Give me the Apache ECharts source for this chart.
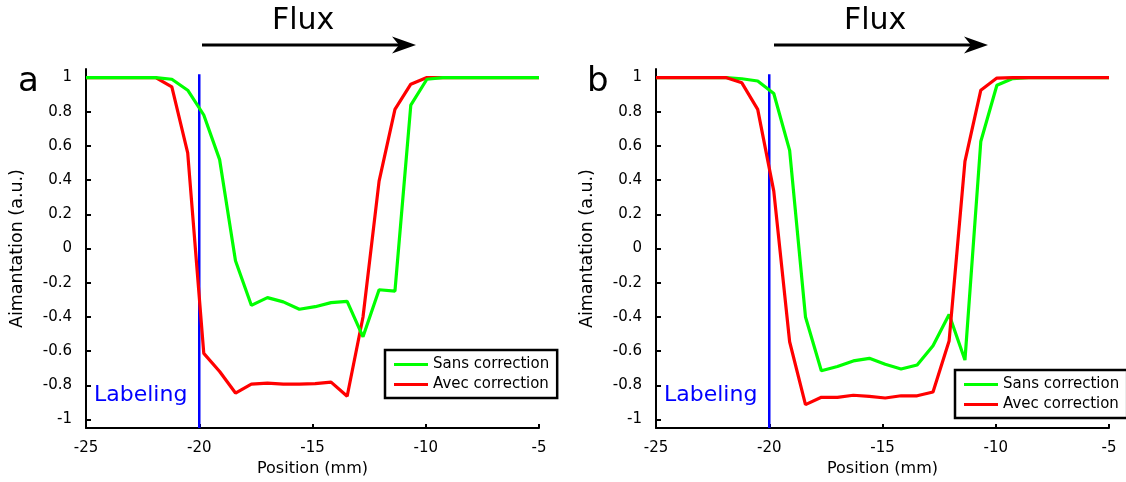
<!DOCTYPE html>
<html>
<head>
<meta charset="utf-8">
<script src="https://cdn.jsdelivr.net/npm/echarts@6/dist/echarts.min.js"></script>
<style>
html,body{margin:0;padding:0;background:#fff;}
#chart{width:1126px;height:482px;}
</style>
</head>
<body>
<div id="chart"></div>
<script>
// Positions (mm) of the sampled profile points
const positions = [-25, -21.92, -21.21, -20.51, -19.80, -19.10, -18.40, -17.70, -16.99, -16.29, -15.58,
  -14.88, -14.18, -13.47, -12.77, -12.06, -11.36, -10.66, -9.95, -9.25, -8.54, -5];

// Panel a
const aSans = [1, 1, 0.99, 0.926, 0.781, 0.52, -0.071, -0.332, -0.287, -0.312, -0.355,
  -0.34, -0.316, -0.309, -0.516, -0.241, -0.249, 0.839, 0.99, 1, 1, 1];
const aAvec = [1, 1, 0.945, 0.559, -0.613, -0.719, -0.845, -0.793, -0.787, -0.793, -0.793,
  -0.79, -0.781, -0.864, -0.40, 0.394, 0.814, 0.961, 1, 1, 1, 1];

// Panel b
const bSans = [1, 1, 0.993, 0.98, 0.907, 0.574, -0.40, -0.715, -0.69, -0.657, -0.642,
  -0.677, -0.704, -0.681, -0.568, -0.386, -0.652, 0.626, 0.955, 0.994, 1, 1];
const bAvec = [1, 1, 0.969, 0.814, 0.336, -0.545, -0.913, -0.87, -0.87, -0.858, -0.865,
  -0.874, -0.861, -0.861, -0.839, -0.541, 0.51, 0.926, 0.997, 1, 1, 1];

// Labeling position line
const labelingX = [-20, -20];
const labelingY = [1.02, -1.05];

// Axis ticks
const yTicks = [-1, -0.8, -0.6, -0.4, -0.2, 0, 0.2, 0.4, 0.6, 0.8, 1];
const xMin = -25, xMax = -5, xStep = 5;

const seriesNames = ['Sans correction', 'Avec correction'];
const panelLetters = ['a', 'b'];

const FONT = 'DejaVu Sans';
const GREEN = '#00ff00', RED = '#ff0000', BLUE = '#0000ff';

function pairs(xs, ys) { return xs.map((x, i) => [x, ys[i]]); }

const chart = echarts.init(document.getElementById('chart'), null, {renderer: 'canvas'});

const gridLefts = [86, 656];
const grids = gridLefts.map(l => ({left: l, top: 69, width: 453, height: 361, containLabel: false}));

const xAxes = grids.map((g, i) => ({
  gridIndex: i, type: 'value', min: xMin, max: xMax, interval: xStep,
  name: 'Position (mm)', nameLocation: 'middle', nameGap: 29,
  nameTextStyle: {fontFamily: FONT, fontSize: 16, color: '#000'},
  axisLine: {show: true, onZero: false, lineStyle: {color: '#000', width: 2}},
  axisTick: {show: true, inside: true, length: 4, lineStyle: {color: '#000', width: 2}},
  axisLabel: {fontFamily: FONT, fontSize: 15, color: '#000', margin: 13},
  splitLine: {show: false}
}));

const yAxes = grids.map((g, i) => ({
  gridIndex: i, type: 'value', min: -1.05, max: 1.05,
  name: 'Aimantation (a.u.)', nameLocation: 'middle', nameGap: 60, nameRotate: 90,
  nameTextStyle: {fontFamily: FONT, fontSize: 17.5, color: '#000'},
  axisLine: {show: true, onZero: false, lineStyle: {color: '#000', width: 2}},
  axisTick: {show: true, inside: true, length: 5, customValues: yTicks, lineStyle: {color: '#000', width: 2}},
  axisLabel: {fontFamily: FONT, fontSize: 15, color: '#000', margin: 14, customValues: yTicks,
    formatter: v => String(Math.round(v * 10) / 10)},
  splitLine: {show: false}
}));

function lineSeries(name, data, color, idx) {
  return {
    name: name, type: 'line', xAxisIndex: idx, yAxisIndex: idx, data: data,
    showSymbol: false, symbol: 'none', animation: false,
    lineStyle: {color: color, width: 3.2}, itemStyle: {color: color}
  };
}

const series = [
  // panel a: red below green
  {name: 'labeling', type: 'line', xAxisIndex: 0, yAxisIndex: 0, data: pairs(labelingX, labelingY),
    symbol: 'none', animation: false, lineStyle: {color: BLUE, width: 2.5}},
  lineSeries(seriesNames[1], pairs(positions, aAvec), RED, 0),
  lineSeries(seriesNames[0], pairs(positions, aSans), GREEN, 0),
  // panel b: green below red
  {name: 'labeling', type: 'line', xAxisIndex: 1, yAxisIndex: 1, data: pairs(labelingX, labelingY),
    symbol: 'none', animation: false, lineStyle: {color: BLUE, width: 2.5}},
  lineSeries(seriesNames[0], pairs(positions, bSans), GREEN, 1),
  lineSeries(seriesNames[1], pairs(positions, bAvec), RED, 1)
];

function legendAt(left, top) {
  return {
    data: seriesNames.map(n => ({name: n, icon: 'rect'})),
    orient: 'vertical', left: left, top: top,
    itemWidth: 34, itemHeight: 3, itemGap: 3,
    padding: [6, 8, 5, 9],
    borderColor: '#000', borderWidth: 2.5, backgroundColor: '#fff',
    selectedMode: false,
    textStyle: {fontFamily: FONT, fontSize: 15, color: '#000', lineHeight: 17}
  };
}

function fluxGraphics(dx) {
  return [
    {type: 'text', left: 272 + dx, top: 6, style: {text: 'Flux', font: '30px "DejaVu Sans"', fill: '#000'}},
    {type: 'line', shape: {x1: 202 + dx, y1: 45, x2: 400 + dx, y2: 45}, style: {stroke: '#000', lineWidth: 3}},
    {type: 'polygon', shape: {points: [[416 + dx, 45], [392 + dx, 36.5], [399 + dx, 45], [392 + dx, 53.5]]}, style: {fill: '#000'}}
  ];
}

const graphics = [
  ...fluxGraphics(0), ...fluxGraphics(572),
  {type: 'text', left: 18, top: 65, style: {text: panelLetters[0], font: '34px "DejaVu Sans"', fill: '#000'}},
  {type: 'text', left: 587, top: 65, style: {text: panelLetters[1], font: '34px "DejaVu Sans"', fill: '#000'}},
  {type: 'text', left: 94, top: 384, style: {text: 'Labeling', font: '22px "DejaVu Sans"', fill: BLUE}},
  {type: 'text', left: 664, top: 384, style: {text: 'Labeling', font: '22px "DejaVu Sans"', fill: BLUE}}
];

chart.setOption({
  animation: false,
  backgroundColor: '#fff',
  textStyle: {fontFamily: FONT},
  grid: grids,
  xAxis: xAxes,
  yAxis: yAxes,
  legend: [legendAt(385, 350), legendAt(955, 370)],
  series: series,
  graphic: graphics
});
</script>
</body>
</html>
